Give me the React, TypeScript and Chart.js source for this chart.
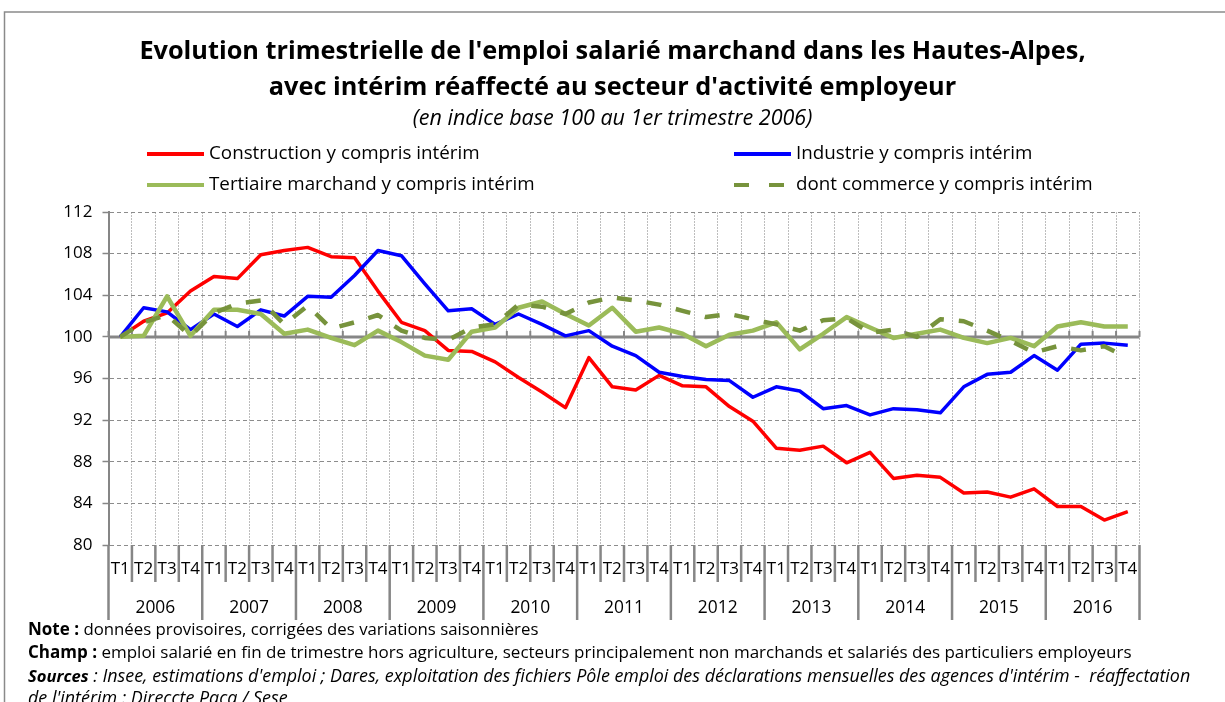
import React, { useEffect, useRef } from 'react';
import { Chart, registerables } from 'chart.js';

Chart.register(...registerables);

const FONT = '"Open Sans", Lato, sans-serif';

const years = ['2006', '2007', '2008', '2009', '2010', '2011', '2012', '2013', '2014', '2015', '2016'];
const quarters = ['T1', 'T2', 'T3', 'T4'];
const quarterLabels = years.flatMap(() => quarters);

const construction = [100, 101.5, 102.3, 104.4, 105.8, 105.6, 107.9, 108.3, 108.6, 107.7, 107.6, 104.4, 101.4, 100.6, 98.7, 98.6, 97.6, 96.1, 94.7, 93.2, 98.0, 95.2, 94.9, 96.3, 95.3, 95.2, 93.3, 91.9, 89.3, 89.1, 89.5, 87.9, 88.9, 86.4, 86.7, 86.5, 85.0, 85.1, 84.6, 85.4, 83.7, 83.7, 82.4, 83.2];
const industrie = [100, 102.8, 102.4, 100.7, 102.2, 101.0, 102.6, 102.0, 103.9, 103.8, 105.9, 108.3, 107.8, 105.1, 102.5, 102.7, 101.2, 102.2, 101.2, 100.1, 100.6, 99.1, 98.2, 96.6, 96.2, 95.9, 95.8, 94.2, 95.2, 94.8, 93.1, 93.4, 92.5, 93.1, 93.0, 92.7, 95.2, 96.4, 96.6, 98.2, 96.8, 99.3, 99.4, 99.2];
const tertiaire = [100, 100.1, 103.9, 100.1, 102.6, 102.6, 102.2, 100.3, 100.7, 99.9, 99.2, 100.6, 99.5, 98.2, 97.8, 100.5, 100.9, 102.8, 103.4, 102.2, 101.1, 102.8, 100.5, 100.9, 100.3, 99.1, 100.2, 100.6, 101.4, 98.8, 100.3, 101.9, 100.9, 99.9, 100.3, 100.7, 99.9, 99.4, 99.9, 99.1, 101.0, 101.4, 101.0, 101.0];
const commerce = [100, 101.4, 102.1, 100.1, 102.3, 103.2, 103.5, 101.2, 103.0, 100.8, 101.4, 102.1, 100.6, 99.9, 99.7, 100.9, 101.2, 103.1, 102.9, 102.2, 103.3, 103.8, 103.5, 103.1, 102.5, 101.9, 102.2, 101.7, 101.2, 100.6, 101.6, 101.8, 100.4, 100.7, 100.0, 101.7, 101.5, 100.6, 99.6, 98.5, 99.1, 98.7, 99.1, 98.0];

const seriesNames = [
  'Construction y compris intérim',
  'Industrie y compris intérim',
  'Tertiaire marchand y compris intérim',
  'dont commerce y compris intérim',
];

const titleLines = [
  "Evolution trimestrielle de l'emploi salarié marchand dans les Hautes-Alpes,",
  "avec intérim réaffecté au secteur d'activité employeur",
];
const subtitleText = '(en indice base 100 au 1er trimestre 2006)';

type Run = { t: string; w: string; s: string; size: number };
const footerLines: Run[][] = [
  [{ t: 'Note :', w: 'bold', s: 'normal', size: 17 }, { t: ' données provisoires, corrigées des variations saisonnières', w: 'normal', s: 'normal', size: 16.8 }],
  [{ t: 'Champ :', w: 'bold', s: 'normal', size: 17 }, { t: ' emploi salarié en fin de trimestre hors agriculture, secteurs principalement non marchands et salariés des particuliers employeurs', w: 'normal', s: 'normal', size: 17 }],
  [{ t: 'Sources', w: 'bold', s: 'italic', size: 16.6 }, { t: " : Insee, estimations d'emploi ; Dares, exploitation des fichiers Pôle emploi des déclarations mensuelles des agences d'intérim -  réaffectation", w: 'normal', s: 'italic', size: 17.9 }],
  [{ t: "de l'intérim : Direccte Paca / Sese", w: 'normal', s: 'italic', size: 17.9 }],
];

const GRAY = '#868686';

const decorPlugin = {
  id: 'decor',
  beforeDraw(chart: any) {
    const ctx = chart.ctx;
    ctx.save();
    ctx.strokeStyle = '#8a8a8a';
    ctx.lineWidth = 1.5;
    ctx.strokeRect(4.5, 12, 1400, 900);
    ctx.restore();
  },
  beforeDatasetsDraw(chart: any) {
    const ctx = chart.ctx;
    const xs = chart.scales.x;
    const ys = chart.scales.y;
    const area = chart.chartArea;
    const n = quarterLabels.length;
    const y100 = ys.getPixelForValue(100);
    const bounds: number[] = [];
    for (let k = 0; k <= n; k++) {
      if (k === 0) bounds.push(area.left);
      else if (k === n) bounds.push(area.right);
      else bounds.push((xs.getPixelForValue(k - 1) + xs.getPixelForValue(k)) / 2);
    }
    ctx.save();
    ctx.strokeStyle = GRAY;
    ctx.lineWidth = 3;
    ctx.beginPath();
    ctx.moveTo(area.left, y100);
    ctx.lineTo(area.right, y100);
    ctx.stroke();
    ctx.lineWidth = 2;
    for (const bx of bounds) {
      ctx.beginPath();
      ctx.moveTo(bx, y100);
      ctx.lineTo(bx, y100 - 6);
      ctx.stroke();
    }
    ctx.lineWidth = 2.5;
    bounds.forEach((bx, k) => {
      ctx.beginPath();
      ctx.moveTo(bx, area.bottom);
      ctx.lineTo(bx, k % 4 === 0 ? 620 : 582);
      ctx.stroke();
    });
    ctx.restore();
  },
  afterDraw(chart: any) {
    const ctx = chart.ctx;
    ctx.save();
    const pos = [
      { lx: 147, tx: 209, y: 154 },
      { lx: 734, tx: 796, y: 154 },
      { lx: 147, tx: 209, y: 185 },
      { lx: 734, tx: 796, y: 185 },
    ];
    chart.data.datasets.forEach((ds: any, i: number) => {
      const p = pos[i];
      ctx.save();
      ctx.strokeStyle = ds.borderColor;
      ctx.lineWidth = 4;
      ctx.setLineDash(ds.borderDash ? [15, 20] : []);
      ctx.beginPath();
      ctx.moveTo(p.lx, p.y);
      ctx.lineTo(p.lx + 57, p.y);
      ctx.stroke();
      ctx.restore();
      ctx.fillStyle = '#000';
      ctx.font = `18.8px ${FONT}`;
      ctx.textBaseline = 'middle';
      ctx.textAlign = 'left';
      ctx.fillText(ds.label, p.tx, p.y);
    });
    const ys = [630, 653, 677, 699];
    footerLines.forEach((runs, li) => {
      let x = 28;
      runs.forEach((r) => {
        ctx.font = `${r.s} ${r.w} ${r.size}px ${FONT}`;
        ctx.fillStyle = '#000';
        ctx.textBaseline = 'middle';
        ctx.textAlign = 'left';
        ctx.fillText(r.t, x, ys[li]);
        x += ctx.measureText(r.t).width;
      });
    });
    ctx.restore();
  },
};

export default function App() {
  const ref = useRef<HTMLCanvasElement | null>(null);
  useEffect(() => {
    if (!ref.current) return;
    const chart = new Chart(ref.current, {
      type: 'line',
      data: {
        labels: quarterLabels,
        datasets: [
          { label: seriesNames[0], data: construction, borderColor: '#FF0000', backgroundColor: '#FF0000', borderWidth: 3.5, order: 4 },
          { label: seriesNames[1], data: industrie, borderColor: '#0000FF', backgroundColor: '#0000FF', borderWidth: 3.5, order: 3 },
          { label: seriesNames[2], data: tertiaire, borderColor: '#9BBB59', backgroundColor: '#9BBB59', borderWidth: 4.5, order: 2 },
          { label: seriesNames[3], data: commerce, borderColor: '#77933C', backgroundColor: '#77933C', borderWidth: 4.5, borderDash: [15, 15], order: 1 },
        ],
      },
      options: {
        responsive: false,
        animation: false,
        devicePixelRatio: 1,
        elements: { point: { radius: 0, hoverRadius: 0 }, line: { tension: 0, fill: false, borderCapStyle: 'butt', borderJoinStyle: 'round' } },
        layout: { padding: { top: 0, left: 0, right: 0, bottom: 77 } },
        plugins: {
          legend: { display: false },
          tooltip: { enabled: false },
          title: {
            display: true,
            text: titleLines,
            color: '#000',
            font: { family: FONT, size: 25.3, weight: 'bold', lineHeight: '36px' },
            padding: { top: 34, bottom: 0 },
          },
          subtitle: {
            display: true,
            text: subtitleText,
            color: '#000',
            font: { family: FONT, size: 21.5, style: 'italic', lineHeight: '24px' },
            padding: { top: 1, bottom: 81 },
          },
        },
        scales: {
          x: {
            type: 'category',
            offset: true,
            grid: { display: true, offset: true, color: '#bdbdbd', lineWidth: 1, drawTicks: false },
            border: { display: false, dash: [2, 1] },
            ticks: { color: '#000', font: { family: FONT, size: 17 }, padding: 14, autoSkip: false, maxRotation: 0, minRotation: 0 },
            afterFit: (s: any) => { s.height = 40; },
          },
          x2: {
            type: 'category',
            labels: years,
            position: 'bottom',
            offset: true,
            grid: { display: false },
            border: { display: false },
            ticks: { color: '#000', font: { family: FONT, size: 17.4 }, padding: 5, autoSkip: false, maxRotation: 0, minRotation: 0 },
            afterFit: (s: any) => { s.height = 40; },
          },
          y: {
            type: 'linear',
            min: 80,
            max: 112,
            grid: { color: '#8c8c8c', lineWidth: 1, tickLength: 6, tickColor: GRAY, tickWidth: 1.5 },
            border: { display: true, color: GRAY, width: 2, dash: [4, 3] },
            ticks: { stepSize: 4, color: '#000', font: { family: FONT, size: 17 }, padding: 10 },
            afterFit: (s: any) => { s.width = 108.5; },
          },
          yRight: {
            type: 'linear',
            position: 'right',
            display: true,
            grid: { display: false },
            border: { display: false },
            ticks: { display: false },
            afterFit: (s: any) => { s.width = 85.5; },
          },
        },
      },
      plugins: [decorPlugin],
    } as any);
    return () => chart.destroy();
  }, []);
  return (
    <div style={{ position: 'fixed', left: 0, top: 0, width: 1225, height: 702, background: '#fff' }}>
      <canvas ref={ref} width={1225} height={702} />
    </div>
  );
}
